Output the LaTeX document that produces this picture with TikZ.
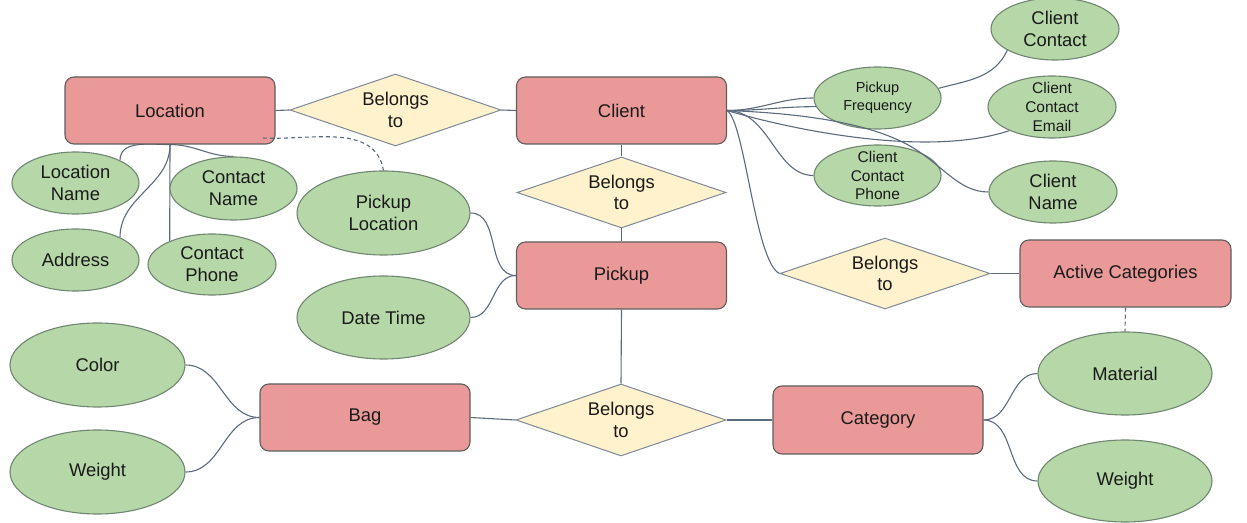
\documentclass[tikz,border=0pt]{standalone}
\usepackage{fontspec}
\setmainfont{Liberation Sans}
\usetikzlibrary{shapes.geometric}
\pgfdeclarelayer{background}
\pgfsetlayers{background,main}
\definecolor{entfill}{HTML}{EA9999}
\definecolor{entdraw}{HTML}{5E5E5E}
\definecolor{relfill}{HTML}{FFF2CC}
\definecolor{reldraw}{HTML}{7D8899}
\definecolor{attfill}{HTML}{B6D7A8}
\definecolor{attdraw}{HTML}{6F8670}
\definecolor{lnc}{HTML}{5C6A7D}
\definecolor{txt}{HTML}{1A1A1A}
\begin{document}
\begin{tikzpicture}[x=1pt,y=1pt,
  bigfont/.style={font=\fontsize{18.4}{21.8}\selectfont},
  entity/.style={draw=entdraw, fill=entfill, rounded corners=9pt, minimum width=210pt, minimum height=67pt, line width=1.1pt, bigfont, text=txt, inner sep=0pt},
  rel/.style={diamond, draw=reldraw, fill=relfill, minimum width=211pt, minimum height=72pt, aspect=2.9, inner sep=0pt, line width=1pt, align=center, bigfont, text=txt},
  attr/.style={ellipse, draw=attdraw, fill=attfill, inner sep=-8pt, line width=1.1pt, align=center, bigfont, text=txt},
  sattr/.style={attr, minimum width=127pt, minimum height=62pt},
  lattr/.style={attr, minimum width=174pt, minimum height=84pt},
  conn/.style={draw=lnc, line width=1.1pt},
  dashconn/.style={conn, dash pattern=on 4pt off 3pt}]
\useasboundingbox (0,0) rectangle (1247,522);

% entities
\node[entity] (Location) at (170,411.5) {Location};
\node[entity] (Client) at (621.5,411.5) {Client};
\node[entity] (Pickup) at (621.5,246.5) {Pickup};
\node[entity] (Bag) at (365,104.5) {Bag};
\node[entity, minimum height=68pt] (Category) at (878,102) {Category};
\node[entity, minimum width=211pt] (Active) at (1125.5,248.5) {Active Categories};

% relationships
\node[rel] (D1) at (395.5,412) {Belongs\\to};
\node[rel, minimum width=209pt, minimum height=71pt] (D2) at (621.5,329.5) {Belongs\\to};
\node[rel, minimum width=210pt, minimum height=71pt] (D3) at (885,248.5) {Belongs\\to};
\node[rel, minimum width=210pt] (D4) at (621,102) {Belongs\\to};

% attributes
\node[sattr] (LocName) at (75.5,339) {Location\\Name};
\node[sattr, minimum height=63pt] (ContactName) at (233.5,333.5) {Contact\\Name};
\node[sattr] (Address) at (75.5,262) {Address};
\node[sattr, minimum width=128pt, minimum height=61pt] (ContactPhone) at (212,257.5) {Contact\\Phone};
\node[lattr, minimum width=173pt] (PickupLoc) at (383.5,309) {Pickup\\Location};
\node[lattr, minimum width=173pt, minimum height=83pt] (DateTime) at (383.5,204.5) {Date Time};
\node[lattr, minimum width=175pt] (Color) at (97.5,157) {Color};
\node[lattr, minimum width=175pt] (WeightB) at (97.5,50) {Weight};
\node[lattr, minimum height=83pt] (Material) at (1125,148.5) {Material};
\node[lattr, minimum height=82pt] (WeightC) at (1125,41) {Weight};
\node[sattr, font=\fontsize{14.5}{17.5}\selectfont] (PickupFreq) at (877.5,424) {Pickup\\Frequency};
\node[sattr, minimum height=61pt, font=\fontsize{15.5}{18.7}\selectfont] (CCPhone) at (877.5,346.5) {Client\\Contact\\Phone};
\node[sattr, minimum width=128pt] (ClientContact) at (1055,493) {Client\\Contact};
\node[sattr, minimum width=128pt, font=\fontsize{15.5}{18.7}\selectfont] (CCEmail) at (1052,415) {Client\\Contact\\Email};
\node[sattr, minimum width=128pt] (ClientName) at (1053,330) {Client\\Name};

\coordinate (dashstart) at (263,384);
\coordinate (nameway) at (915,373);

\begin{pgfonlayer}{background}
% straight links
\draw[conn] (Location.east) -- (D1.west);
\draw[conn] (D1.east) -- (Client.west);
\draw[conn] (Client.south) -- (D2.north);
\draw[conn] (D2.south) -- (Pickup.north);
\draw[conn] (Pickup.south) -- (D4.north);
\draw[conn] (Bag.east) -- (D4.west);
\draw[conn] (D4.east) -- (Category.west);
\draw[conn] (D3.east) -- (Active.west);
\draw[dashconn] (Active.south) -- (Material.north);
% location attributes
\draw[conn] (Location.south) to[out=180,in=90] (LocName.27);
\draw[conn] (Location.south) to[out=0,in=180] (ContactName.north);
\draw[conn] (Location.south) to[out=-90,in=90] (Address.27);
\draw[conn] (Location.south) -- (ContactPhone.151);
% pickup attributes
\draw[conn] (PickupLoc.east) to[out=0,in=180] (Pickup.west);
\draw[conn] (DateTime.east) to[out=0,in=180] (Pickup.west);
% bag attributes
\draw[conn] (Color.east) to[out=0,in=180] (Bag.west);
\draw[conn] (WeightB.east) to[out=0,in=180] (Bag.west);
% category attributes
\draw[conn] (Category.east) to[out=0,in=180] (Material.west);
\draw[conn] (Category.east) to[out=0,in=180] (WeightC.west);
% client attributes
\draw[conn] (Client.east) to[out=0,in=180] (PickupFreq.west);
\draw[conn] (Client.east) to[out=0,in=180] (PickupFreq.188);
\draw[conn] (PickupFreq.9) to[out=15,in=-115] (ClientContact.204);
\draw[conn] (Client.east) .. controls (800,390) and (930,365) .. (CCEmail.209);
\draw[conn] (Client.east) .. controls (770,411) and (775,346.5) .. (CCPhone.west);
\draw[conn] (Client.east) .. controls (745,400) and (755,260) .. (D3.west);
\end{pgfonlayer}
\draw[dashconn] (dashstart) to[out=-3,in=100] (PickupLoc.north);
\draw[conn] (Client.east) .. controls (820,408) and (880,395) .. (nameway)
  .. controls (945,354) and (960,330) .. (ClientName.west);
\end{tikzpicture}
\end{document}
